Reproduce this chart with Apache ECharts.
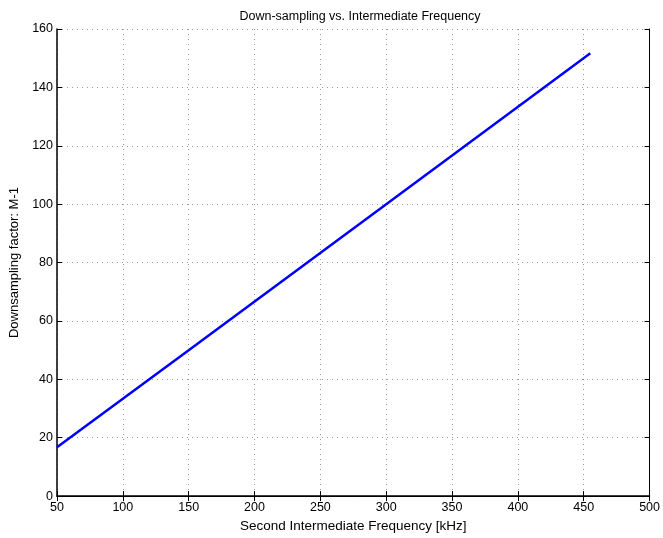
<!DOCTYPE html>
<html>
<head>
<meta charset="utf-8">
<script src="https://cdn.jsdelivr.net/npm/echarts@6/dist/echarts.min.js"></script>
<style>
  html, body { margin: 0; padding: 0; background: #fff; }
  #chart { width: 663px; height: 538px; }
</style>
</head>
<body>
<div id="chart"></div>
<script>
// Second IF in kHz and the matching down-sampling factor M-1
const freqKHz = [50, 150, 300, 455];
const downFactor = [16.7, 50, 100, 151.7];
const xTicks = [50, 100, 150, 200, 250, 300, 350, 400, 450, 500];
const yTicks = [0, 20, 40, 60, 80, 100, 120, 140, 160];

const FONT = '"Liberation Sans", Arial, sans-serif';

const chart = echarts.init(document.getElementById('chart'), null, { renderer: 'canvas' });

const boxAxis = (extra) => Object.assign({
  axisLine: { show: true, lineStyle: { color: '#000', width: 1 } },
  axisTick: { show: true, inside: true, length: 5, lineStyle: { color: '#000', width: 1 } },
  splitLine: { show: false },
  axisLabel: { show: false }
}, extra);

chart.setOption({
  animation: false,
  backgroundColor: '#fff',
  title: {
    text: 'Down-sampling vs. Intermediate Frequency',
    left: 355, top: 5, textAlign: 'center',
    textStyle: { fontFamily: FONT, fontSize: 12.5, fontWeight: 'normal', color: '#000' }
  },
  grid: { left: 57, right: 8, top: 29, bottom: 41, containLabel: false },
  xAxis: [
    {
      type: 'value', min: xTicks[0], max: xTicks[xTicks.length - 1], interval: 50,
      position: 'bottom',
      name: 'Second Intermediate Frequency [kHz]',
      nameLocation: 'middle', nameGap: 20,
      nameTextStyle: { fontFamily: FONT, fontSize: 13.5, color: '#000' },
      axisLine: { show: true, onZero: false, lineStyle: { color: '#000', width: 1.5 } },
      axisTick: { show: true, inside: true, length: 5, lineStyle: { color: '#000' } },
      axisLabel: { fontFamily: FONT, fontSize: 12.5, color: '#000', margin: 5 },
      splitLine: { show: true, lineStyle: { color: '#999', type: [1, 4], width: 1 } }
    },
    boxAxis({ type: 'value', min: 50, max: 500, interval: 50, position: 'top' })
  ],
  yAxis: [
    {
      type: 'value', min: yTicks[0], max: yTicks[yTicks.length - 1], interval: 20,
      position: 'left',
      name: 'Downsampling factor: M-1',
      nameLocation: 'middle', nameGap: 32,
      nameTextStyle: { fontFamily: FONT, fontSize: 13, color: '#000' },
      axisLine: { show: true, onZero: false, lineStyle: { color: '#000', width: 1.5 } },
      axisTick: { show: true, inside: true, length: 5, lineStyle: { color: '#000' } },
      axisLabel: { fontFamily: FONT, fontSize: 12.5, color: '#000', margin: 4 },
      splitLine: { show: true, lineStyle: { color: '#999', type: [1, 4], width: 1 } }
    },
    boxAxis({ type: 'value', min: 0, max: 160, interval: 20, position: 'right' })
  ],
  series: [{
    type: 'line',
    data: freqKHz.map((f, i) => [f, downFactor[i]]),
    showSymbol: false,
    lineStyle: { color: '#0000ff', width: 2.5 },
    xAxisIndex: 0, yAxisIndex: 0
  }]
});
</script>
</body>
</html>
